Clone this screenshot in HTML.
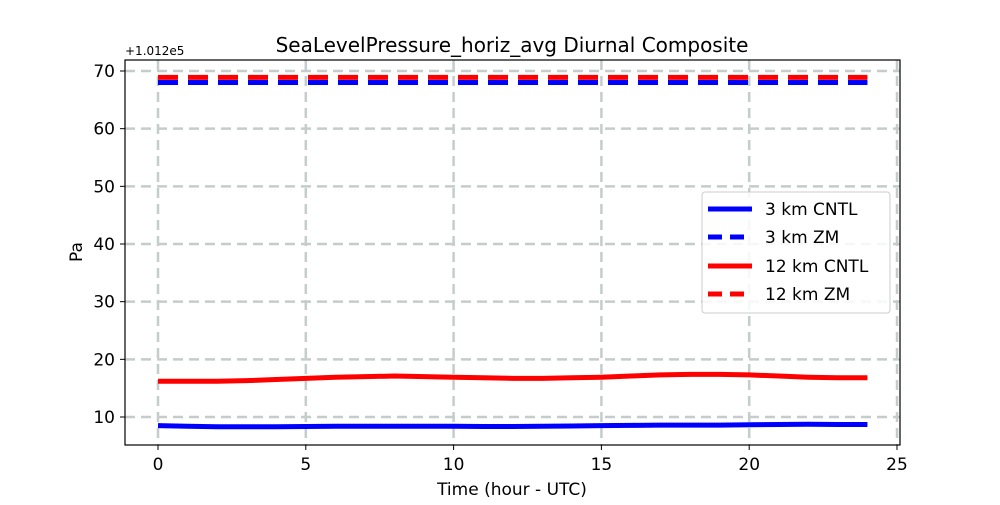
<!DOCTYPE html>
<html><head><meta charset="utf-8"><style>body{margin:0;background:#fff}svg{font-family:"DejaVu Sans","Liberation Sans",sans-serif}</style></head>
<body>
<svg width="1000" height="500" id="c">
<text x="512" y="52" font-size="20" text-anchor="middle">SeaLevelPressure_horiz_avg Diurnal Composite</text>
<text x="125" y="55" font-size="12">+1.012e5</text>
<text x="512" y="495" font-size="17" text-anchor="middle">Time (hour - UTC)</text>
<text x="82" y="252" font-size="17" text-anchor="middle" transform="rotate(-90 82 252)">Pa</text>
<g id="grid"></g><g id="ticks"></g><g id="series"></g>
<rect x="125" y="60" width="775" height="385" fill="none" stroke="#000" stroke-width="1.2"/>
<g>
<rect x="702" y="192" width="188" height="121" rx="3" fill="#fff" fill-opacity="0.85" stroke="#ccc"/>
<line x1="708" y1="209" x2="752" y2="209" stroke="#0000ff" stroke-width="5"/>
<text x="765" y="215" font-size="17">3 km CNTL</text>
<line x1="708" y1="237" x2="752" y2="237" stroke="#0000ff" stroke-width="5" stroke-dasharray="14,8"/>
<text x="765" y="243" font-size="17">3 km ZM</text>
<line x1="708" y1="266" x2="752" y2="266" stroke="#ff0000" stroke-width="5"/>
<text x="765" y="272" font-size="17">12 km CNTL</text>
<line x1="708" y1="294" x2="752" y2="294" stroke="#ff0000" stroke-width="5" stroke-dasharray="14,8"/>
<text x="765" y="300" font-size="17">12 km ZM</text>
</g>
</svg>
<script>
const hours=[0,1,2,3,4,5,6,7,8,9,10,11,12,13,14,15,16,17,18,19,20,21,22,23,24];
const cntl3=[8.5,8.4,8.3,8.3,8.3,8.35,8.4,8.4,8.4,8.4,8.4,8.35,8.35,8.4,8.45,8.5,8.55,8.6,8.6,8.6,8.65,8.7,8.75,8.7,8.7];
const zm3=[68.0,68.0,68.0,68.0,68.0,68.0,68.0,68.0,68.0,68.0,68.0,68.0,68.0,68.0,68.0,68.0,68.0,68.0,68.0,68.0,68.0,68.0,68.0,68.0,68.0];
const cntl12=[16.2,16.2,16.2,16.3,16.5,16.7,16.9,17.0,17.1,17.0,16.9,16.8,16.7,16.7,16.8,16.9,17.1,17.3,17.4,17.4,17.3,17.1,16.9,16.8,16.8];
const zm12=[68.9,68.9,68.9,68.9,68.9,68.9,68.9,68.9,68.9,68.9,68.9,68.9,68.9,68.9,68.9,68.9,68.9,68.9,68.9,68.9,68.9,68.9,68.9,68.9,68.9];
const xTicks=[0,5,10,15,20,25];
const yTicks=[10,20,30,40,50,60,70];
const NS="http://www.w3.org/2000/svg";
const X=v=>158+v*(897-158)/25;
const Y=v=>417-(v-10)*(417-71)/60;
function mk(t,a,p){const e=document.createElementNS(NS,t);for(const k in a)e.setAttribute(k,a[k]);document.getElementById(p).appendChild(e);return e;}
xTicks.forEach(t=>{
const g=mk('line',{x1:X(t),x2:X(t),y1:60,y2:445,stroke:'#c4cccc','stroke-width':2.5,'stroke-dasharray':'10,6'},'grid');


const k=mk('line',{x1:X(t),x2:X(t),y1:445,y2:450,stroke:'#000'},'ticks');


const l=mk('text',{x:X(t),y:470,'font-size':17,'text-anchor':'middle'},'ticks');l.textContent=t;


});
yTicks.forEach(t=>{
const g=mk('line',{x1:125,x2:900,y1:Y(t),y2:Y(t),stroke:'#c4cccc','stroke-width':2.5,'stroke-dasharray':'10,6'},'grid');


const k=mk('line',{x1:120,x2:125,y1:Y(t),y2:Y(t),stroke:'#000'},'ticks');


const l=mk('text',{x:115,y:Y(t)+6,'font-size':17,'text-anchor':'end'},'ticks');l.textContent=t;


});
function line(d,c,dash,name){
const p=mk('polyline',{points:hours.map((h,i)=>X(h)+','+Y(d[i])).join(' '),fill:'none',stroke:c,'stroke-width':5},'series');
if(dash)p.setAttribute('stroke-dasharray',dash);


}
line(cntl3,'#0000ff',null,'line-3km-cntl');
line(zm3,'#0000ff','20,10','line-3km-zm');
line(cntl12,'#ff0000',null,'line-12km-cntl');
line(zm12,'#ff0000','20,10','line-12km-zm');
</script>
</body></html>
